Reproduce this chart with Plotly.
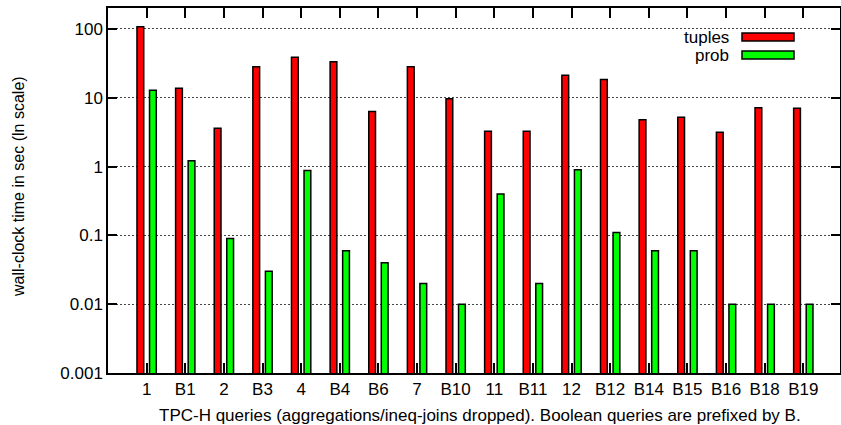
import plotly.graph_objects as go

queries = ["1", "B1", "2", "B3", "4", "B4", "B6", "7", "B10", "11", "B11", "12",
           "B12", "B14", "B15", "B16", "B18", "B19"]
tuples = [108, 13.8, 3.6, 28.3, 38.7, 33.4, 6.3, 28.3, 9.7, 3.27, 3.27, 21.2,
          18.5, 4.8, 5.2, 3.16, 7.15, 7.06]
prob = [12.9, 1.22, 0.09, 0.03, 0.88, 0.06, 0.04, 0.02, 0.01, 0.4, 0.02, 0.9,
        0.11, 0.06, 0.06, 0.01, 0.01, 0.01]
ytick_vals = [0.001, 0.01, 0.1, 1, 10, 100]
ytick_text = ["0.001", "0.01", "0.1", "1", "10", "100"]

FONT = "Liberation Sans, Arial, sans-serif"
xpos = list(range(len(queries)))
PL, PR, PT, PB = 108, 840, 8, 373  # plot-area pixel box
PW, PH = PR - PL, PB - PT

fig = go.Figure()
fig.add_trace(go.Bar(x=xpos, y=tuples, name="tuples", width=0.175, offset=-0.25,
                     marker=dict(color="#ff0000", line=dict(color="black", width=1.5))))
fig.add_trace(go.Bar(x=xpos, y=prob, name="prob", width=0.175, offset=0.075,
                     marker=dict(color="#00ff00", line=dict(color="black", width=1.5))))

# legend drawn gnuplot-style (paper coordinates)
legend_items = [("tuples", "#ff0000", 37), ("prob", "#00ff00", 55)]
for label, col, ypix in legend_items:
    yc = (PB - ypix) / PH
    fig.add_shape(type="rect", xref="paper", yref="paper",
                  x0=(742 - PL) / PW, x1=(794 - PL) / PW,
                  y0=yc - 4 / PH, y1=yc + 4 / PH,
                  fillcolor=col, line=dict(color="black", width=1.5))
    fig.add_annotation(text=label, xref="paper", yref="paper",
                       x=(731 - PL) / PW, y=yc, xanchor="right", yanchor="middle",
                       showarrow=False, font=dict(family=FONT, size=17, color="black"))

# axis titles
fig.add_annotation(text="TPC-H queries (aggregations/ineq-joins dropped). Boolean queries are prefixed by B.",
                   xref="paper", yref="paper", x=(480 - PL) / PW, y=-(415 - PB) / PH,
                   xanchor="center", yanchor="middle", showarrow=False,
                   font=dict(family=FONT, size=17, color="black"))
fig.add_annotation(text="wall-clock time in sec (ln scale)",
                   xref="paper", yref="paper", x=(18 - PL) / PW, y=(PB - 187) / PH,
                   xanchor="center", yanchor="middle", textangle=-90, showarrow=False,
                   font=dict(family=FONT, size=16, color="black"))

fig.update_layout(
    width=841, height=425,
    margin=dict(l=PL, r=841 - PR, t=PT, b=425 - PB),
    plot_bgcolor="white", paper_bgcolor="white",
    showlegend=False,
    barmode="overlay",
    font=dict(family=FONT, size=17, color="black"),
    xaxis=dict(
        range=[-1, 17.95], tickmode="array", tickvals=xpos, ticktext=queries,
        ticks="inside", ticklen=10, tickwidth=1.5, tickcolor="black",
        showline=True, linecolor="black", linewidth=1.5, mirror="ticks",
        showgrid=False, zeroline=False, automargin=False,
        tickfont=dict(family=FONT, size=17),
    ),
    yaxis=dict(
        type="log", range=[-3, 2.305], tickmode="array",
        tickvals=ytick_vals, ticktext=ytick_text,
        ticks="inside", ticklen=9, tickwidth=1.5, tickcolor="black",
        showline=True, linecolor="black", linewidth=1.5, mirror="ticks",
        showgrid=True, gridcolor="#444444", griddash="1.5px,2.5px", gridwidth=1,
        zeroline=False, automargin=False,
        tickfont=dict(family=FONT, size=17),
    ),
)

fig.write_html("out.html", config={"displayModeBar": False},
               post_script="document.body.style.margin='0';document.body.style.overflow='hidden';")
